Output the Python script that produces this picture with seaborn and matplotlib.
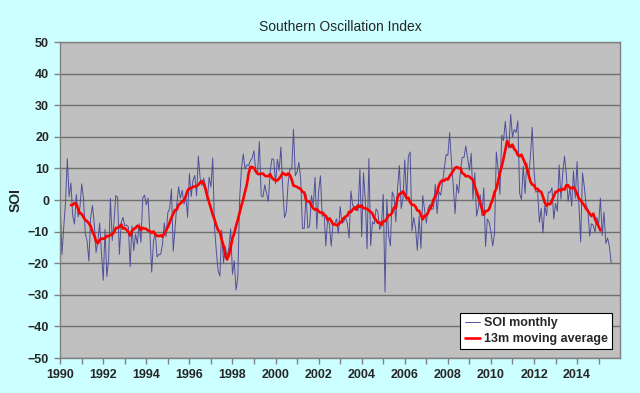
import numpy as np
import pandas as pd
import seaborn as sns
import matplotlib.pyplot as plt

# monthly SOI, Jan 1990 - Aug 2015 (one row per year)
soi_monthly = [
    -1.1, -17.3, -8.5, -0.5, 13.1, 1.0, 5.4, -5.0, -7.6, 1.8, -5.3, -2.4,       # 1990
    5.1, 0.6, -10.6, -12.9, -19.3, -5.5, -1.7, -7.6, -16.6, -12.9, -7.3, -16.7,  # 1991
    -25.4, -9.3, -24.2, -18.7, 0.5, -12.8, -6.9, 1.4, 0.8, -17.2, -7.3, -5.5,    # 1992
    -8.2, -7.9, -8.5, -21.1, -8.2, -16.0, -10.8, -13.9, -7.5, -13.4, 0.6, 1.6,   # 1993
    -1.5, 0.6, -10.6, -22.8, -13.0, -10.4, -18.0, -17.2, -17.2, -14.1, -7.3, -11.6,  # 1994
    -4.0, -2.7, 3.5, -16.2, -9.0, -1.5, 4.2, 0.6, 3.1, -1.3, 1.3, -5.5,          # 1995
    8.4, 1.1, 6.2, 7.8, 1.3, 13.9, 6.8, 4.6, 6.9, 4.2, -0.1, 7.2,                # 1996
    4.1, 13.3, -8.5, -16.2, -22.4, -24.1, -9.5, -19.8, -14.8, -17.8, -15.2, -9.1,  # 1997
    -23.5, -19.2, -28.5, -24.4, 0.5, 9.9, 14.6, 9.8, 11.1, 10.9, 12.5, 13.3,     # 1998
    15.6, 8.6, 8.9, 18.5, 1.3, 1.0, 4.8, 2.1, -0.4, 9.1, 13.1, 12.8,             # 1999
    5.1, 12.9, 9.4, 16.8, 3.6, -5.5, -3.7, 5.3, 9.9, 9.7, 22.4, 7.7,             # 2000
    8.9, 11.9, 6.7, -9.0, -9.0, 1.8, -8.9, -8.2, 1.4, -1.9, 7.2, -9.1,           # 2001
    2.7, 7.7, -5.2, -3.8, -14.5, -6.3, -7.6, -14.6, -7.6, -7.4, -6.0, -10.6,     # 2002
    -2.0, -7.4, -6.8, -5.5, -7.4, -12.0, 2.9, -1.8, -2.2, -1.9, -3.4, 9.8,       # 2003
    -11.6, 8.6, 0.2, -15.4, 13.1, -14.4, -6.9, -7.6, -2.8, -3.7, -9.3, -8.0,     # 2004
    1.8, -29.1, 0.2, -11.2, -14.5, 2.6, 0.9, -6.9, 3.9, 10.9, -2.7, 0.6,         # 2005
    12.7, 0.1, 13.8, 15.2, -9.8, -5.5, -8.9, -15.9, -5.1, -15.3, 1.4, -3.0,      # 2006
    -7.3, -2.7, -1.4, -3.0, -2.7, 5.0, -4.3, 2.7, 1.5, 5.4, 9.8, 14.4,           # 2007
    14.1, 21.3, 12.2, 4.5, -4.3, 5.0, 2.2, 9.1, 13.5, 13.5, 17.1, 13.3,          # 2008
    9.4, 14.8, 0.2, 8.6, -5.1, -2.3, 1.7, -5.0, 3.9, -14.7, -6.0, -7.0,          # 2009
    -10.1, -14.5, -10.6, 15.2, 10.0, 1.8, 20.5, 18.8, 24.9, 18.3, 16.4, 27.1,    # 2010
    19.9, 22.3, 21.4, 25.1, 2.1, 0.2, 10.7, 2.1, 11.7, 7.3, 13.8, 23.0,          # 2011
    9.4, 2.5, 2.9, -7.1, -2.7, -10.4, -1.8, -5.0, 2.6, 2.4, 3.9, -6.0,           # 2012
    -1.1, -3.6, 11.1, 0.3, 8.4, 13.9, 8.1, -0.5, 3.9, -1.9, 9.2, 0.6,            # 2013
    12.2, -1.3, -13.3, 8.6, 4.4, -1.5, -3.0, -11.4, -7.5, -8.0, -10.1, -5.5,     # 2014
    -7.8, 0.6, -11.2, -3.8, -13.7, -12.0, -14.7, -19.8,                          # 2015
]
start_year = 1990
year_ticks = list(range(1990, 2016))
year_labels = [str(y) if y % 2 == 0 else "" for y in year_ticks]
soi_ticks = list(range(-50, 51, 10))

df = pd.DataFrame({"soi": soi_monthly})
df["year"] = start_year + np.arange(len(df)) / 12
df["ma13"] = df["soi"].rolling(13, center=True).mean()

sns.set_style("white")
plt.rcParams["font.family"] = ["Liberation Sans", "DejaVu Sans"]

bg = "#ccffff"
fig = plt.figure(figsize=(6.4, 3.93), dpi=100, facecolor=bg)
ax = fig.add_axes([0.094, 0.089, 0.875, 0.804])
ax.set_facecolor("#c0c0c0")

sns.lineplot(data=df, x="year", y="soi", ax=ax, color="#50509a", lw=0.7, label="SOI monthly")
sns.lineplot(data=df, x="year", y="ma13", ax=ax, color="#ff0000", lw=1.9, label="13m moving average")

ax.set_xlim(1990, 2016)
ax.set_ylim(-50, 50)
ax.set_yticks(soi_ticks)
ax.set_xticks(year_ticks)
ax.set_xticklabels(year_labels)
ax.yaxis.grid(True, color="#6e6e6e", lw=1.0)
ax.set_axisbelow(True)
ax.tick_params(axis="both", direction="out", length=4, width=1, color="#808080",
               labelsize=9, pad=4, bottom=True, left=True)
for lab in ax.get_xticklabels() + ax.get_yticklabels():
    lab.set_fontweight("bold")
for side in ["top", "right", "left", "bottom"]:
    ax.spines[side].set_color("#808080")
    ax.spines[side].set_linewidth(1.0)

ax.set_xlabel("")
ax.set_ylabel("SOI", fontsize=10, fontweight="bold", labelpad=4)
ax.set_title("Southern Oscillation Index", fontsize=10, pad=8)

leg = ax.legend(loc="lower right", frameon=True, fancybox=False, framealpha=1,
                edgecolor="black", facecolor="white", handlelength=1.2,
                handletextpad=0.3, borderpad=0.35, labelspacing=0.3,
                borderaxespad=0, prop={"size": 9, "weight": "bold"},
                bbox_to_anchor=(0.985, 0.027))
leg.get_frame().set_linewidth(0.8)

fig.savefig("out.png", dpi=100, facecolor=bg)
